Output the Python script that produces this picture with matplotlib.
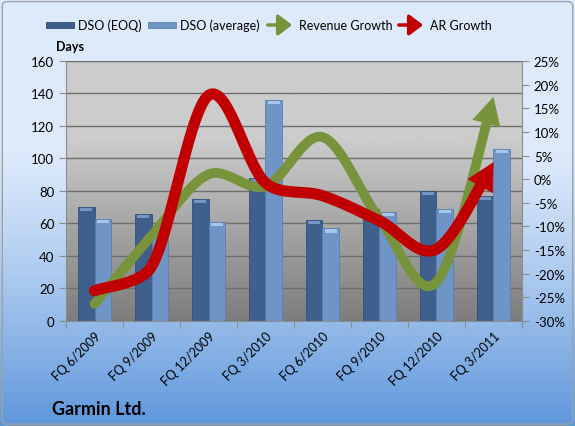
import numpy as np
import matplotlib
matplotlib.use('Agg')
import matplotlib.pyplot as plt
from matplotlib.patches import FancyBboxPatch, Rectangle, FancyArrowPatch
from matplotlib.ticker import FuncFormatter

plt.rcParams['font.family'] = ['Lato', 'DejaVu Sans']

quarters = ['FQ 6/2009', 'FQ 9/2009', 'FQ 12/2009', 'FQ 3/2010',
            'FQ 6/2010', 'FQ 9/2010', 'FQ 12/2010', 'FQ 3/2011']
dso_eoq = [70, 66, 75, 88, 62, 69, 80, 77]
dso_avg = [63, 57, 61, 136, 57, 67, 69, 106]
revenue_growth = [-26.4, -12.0, 1.0, -1.5, 8.9, -8.4, -21.8, 17.4]
ar_growth = [-23.6, -18.5, 17.7, -0.8, -3.5, -8.8, -14.8, 3.6]

DARK = '#3f5f8c'
LIGHT = '#6f94c6'
GREEN = '#77933c'
RED = '#c00000'


def smooth(xs, ys, n=60):
    """Bezier smoothing similar to Excel's smoothed line."""
    ky = 4.727 / 57.0  # make y comparable to x in pixel space
    P = np.column_stack([xs, np.array(ys) * ky])
    m = len(P)
    tang = [(P[min(i + 1, m - 1)] - P[max(i - 1, 0)]) / 6.0 for i in range(m)]

    def capped(v, L):
        mag = np.hypot(*v)
        return v if mag <= L / 3.0 else v * (L / 3.0) / mag

    out = []
    for i in range(m - 1):
        p1, p2 = P[i], P[i + 1]
        L = np.hypot(*(p2 - p1))
        c1 = p1 + capped(tang[i], L)
        c2 = p2 - capped(tang[i + 1], L)
        t = np.linspace(0, 1, n)[:, None]
        seg = ((1 - t) ** 3) * p1 + 3 * ((1 - t) ** 2) * t * c1 + 3 * (1 - t) * t ** 2 * c2 + t ** 3 * p2
        out.append(seg if i == 0 else seg[1:])
    pts = np.vstack(out)
    return pts[:, 0], pts[:, 1] / ky


fig = plt.figure(figsize=(5.75, 4.27), dpi=100)

# figure background gradient
bg = fig.add_axes([0, 0, 1, 1], zorder=-10)
grad = np.linspace(0, 1, 256)[:, None]
top_c = np.array([0.87, 0.92, 0.99])
bot_c = np.array([0.37, 0.59, 0.86])
w = np.clip((grad - 0.35) / 0.65, 0, 1) ** 1.2
img = top_c * (1 - w)[..., None] + bot_c * w[..., None]
bg.imshow(img, aspect='auto', extent=[0, 1, 0, 1], origin='upper')
bg.add_patch(FancyBboxPatch((0.004, 0.004), 0.992, 0.99, boxstyle='round,pad=0,rounding_size=0.01',
                            fill=False, ec='#a0a0a0', lw=1, transform=bg.transAxes))
bg.set_axis_off()

ax = fig.add_axes([0.1148, 0.2459, 0.793, 0.609])
x = np.arange(len(quarters))
ax.set_xlim(-0.5, len(quarters) - 0.5)
ax.set_ylim(0, 160)

# plot area gradient
pg = np.linspace(0, 1, 256)[:, None]
pw = np.clip((pg - 0.3) / 0.7, 0, 1)
pimg = np.array([0.80, 0.80, 0.80]) * (1 - pw)[..., None] + np.array([0.49, 0.49, 0.49]) * pw[..., None]
ax.imshow(pimg, aspect='auto', extent=[-0.5, len(quarters) - 0.5, 0, 160], origin='upper', zorder=0)

ax.set_yticks(range(0, 161, 20))
ax.grid(axis='y', color='#6e6e6e', lw=1, zorder=1)
bw = 0.29
ax.bar(x - bw / 2, dso_eoq, bw, color=DARK, edgecolor='#34507a', lw=0.6, zorder=2)
ax.bar(x + bw / 2, dso_avg, bw, color=LIGHT, edgecolor='#5b80b3', lw=0.6, zorder=2)
# light caps on bar tops
ax.bar(x - bw / 2, 2.0, bw * 0.75, bottom=np.array(dso_eoq) - 2.6, color='#7596c4', lw=0, zorder=3)
ax.bar(x + bw / 2, 2.0, bw * 0.75, bottom=np.array(dso_avg) - 2.6, color='#a6c6ec', lw=0, zorder=3)

ax.set_xticks(np.arange(-0.5, len(quarters), 1.0))
ax.set_xticklabels([])
ax.set_xticks(x, minor=True)
ax.set_xticklabels(quarters, minor=True, rotation=45, ha='right', rotation_mode='anchor', fontsize=9)
ax.tick_params(axis='x', which='minor', length=0, pad=6)
ax.tick_params(axis='x', which='major', length=5, color='#8c8c8c')
ax.tick_params(axis='y', length=5, color='#8c8c8c', labelsize=9.5)
for s in ['top', 'right']:
    ax.spines[s].set_visible(False)
for s in ['left', 'bottom']:
    ax.spines[s].set_color('#8c8c8c')

ax2 = ax.twinx()
ax2.set_ylim(-30, 25)
ax2.set_yticks(range(-30, 26, 5))
ax2.yaxis.set_major_formatter(FuncFormatter(lambda v, p: f'{int(v)}%'))
ax2.tick_params(axis='y', length=5, color='#8c8c8c', labelsize=9.5)
for s in ['top', 'left', 'bottom']:
    ax2.spines[s].set_visible(False)
ax2.spines['right'].set_color('#8c8c8c')


def draw_arrow_line(vals, color, lw, head_px=26):
    sx, sy = smooth(x, vals)
    disp = ax2.transData.transform(np.column_stack([sx, sy]))
    dist = np.hypot(disp[:, 0] - disp[-1, 0], disp[:, 1] - disp[-1, 1])
    cut = np.where(dist >= head_px)[0][-1]
    ax2.plot(sx[:cut + 2], sy[:cut + 2], color=color, lw=lw, solid_capstyle='round', zorder=4)
    ax2.annotate('', xy=(sx[-1], sy[-1]), xytext=(sx[cut], sy[cut]),
                 arrowprops=dict(arrowstyle='-|>,head_length=0.95,head_width=0.5', color=color, lw=0.5,
                                 mutation_scale=20, shrinkA=0, shrinkB=0), zorder=5)


draw_arrow_line(revenue_growth, GREEN, 7)
draw_arrow_line(ar_growth, RED, 8)

fig.text(70 / 575, 1 - 47 / 427, 'Days', fontsize=9, fontweight='bold', ha='center', va='center')
fig.text(52 / 575, 1 - 410 / 427, 'Garmin Ltd.', fontsize=13, fontweight='bold', ha='left', va='center')

# legend
ly = 1 - 26 / 427
fig.patches.append(Rectangle((46 / 575, ly - 3 / 427), 28 / 575, 6 / 427, transform=fig.transFigure,
                             color=DARK, ec='#2f4a70', lw=0.6))
fig.text(78 / 575, ly, 'DSO (EOQ)', fontsize=9, va='center')
fig.patches.append(Rectangle((148 / 575, ly - 3 / 427), 28 / 575, 6 / 427, transform=fig.transFigure,
                             color=LIGHT, ec='#5b80b3', lw=0.6))
fig.text(180 / 575, ly, 'DSO (average)', fontsize=9, va='center')
for x0, col, lab in [(265, GREEN, 'Revenue Growth'), (396, RED, 'AR Growth')]:
    fig.patches.append(FancyArrowPatch((x0 / 575, ly), ((x0 + 30) / 575, ly), transform=fig.transFigure,
                                       arrowstyle='-|>,head_length=0.6,head_width=0.45', mutation_scale=14,
                                       color=col, lw=2.5))
    fig.text((x0 + 34) / 575, ly, lab, fontsize=9, va='center')

fig.savefig('out.png', dpi=100)
